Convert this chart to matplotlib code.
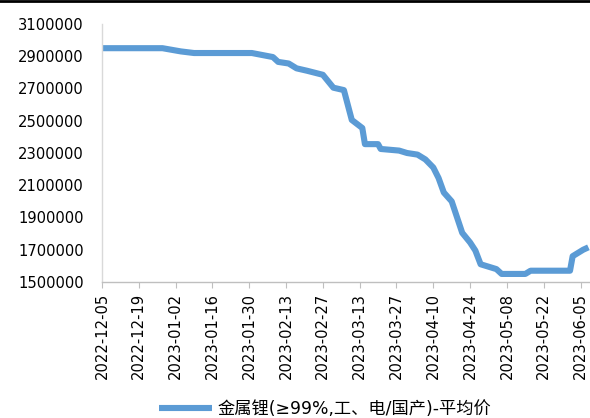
import matplotlib
matplotlib.use("Agg")
import matplotlib.pyplot as plt
import matplotlib.dates as mdates
from matplotlib.lines import Line2D
import numpy as np
import pandas as pd

plt.rcParams['font.family'] = ['DejaVu Sans', 'Noto Sans CJK SC']

dates = ["2022-12-05", "2022-12-28", "2023-01-04", "2023-01-09", "2023-01-31",
         "2023-02-08", "2023-02-10", "2023-02-14", "2023-02-17", "2023-02-21",
         "2023-02-27", "2023-03-03", "2023-03-07", "2023-03-10", "2023-03-14",
         "2023-03-15", "2023-03-20", "2023-03-21", "2023-03-28", "2023-03-31",
         "2023-04-04", "2023-04-07", "2023-04-10", "2023-04-12", "2023-04-14",
         "2023-04-17", "2023-04-21", "2023-04-24", "2023-04-26", "2023-04-28",
         "2023-05-04", "2023-05-06", "2023-05-15", "2023-05-17", "2023-06-01",
         "2023-06-02", "2023-06-06", "2023-06-08"]
prices = [2950000, 2950000, 2930000, 2920000, 2920000,
          2895000, 2865000, 2855000, 2825000, 2810000,
          2785000, 2705000, 2690000, 2505000, 2455000,
          2355000, 2355000, 2325000, 2315000, 2300000,
          2290000, 2260000, 2210000, 2145000, 2055000,
          2000000, 1805000, 1745000, 1695000, 1610000,
          1580000, 1550000, 1550000, 1570000, 1570000,
          1660000, 1700000, 1715000]
series_name = "金属锂(≥99%,工、电/国产)-平均价"
tick_dates = pd.date_range("2022-12-05", "2023-06-05", freq="14D")
y_ticks = list(range(1500000, 3100001, 200000))

W, H = 590, 418
fig = plt.figure(figsize=(W / 100, H / 100), dpi=100)
ax = fig.add_axes([102 / W, 1 - 282 / H, (W - 102) / W, (282 - 24) / H])

x = pd.to_datetime(dates)
ax.plot(x, prices, color="#5B9BD5", lw=4.4, solid_joinstyle="round",
        solid_capstyle="butt", label=series_name)

start = pd.Timestamp("2022-12-05")
ax.set_xlim(mdates.date2num(start), mdates.date2num(start) + 185.6)
ax.set_ylim(1500000, 3100000)
ax.set_yticks(y_ticks)
ax.set_yticklabels([str(v) for v in y_ticks], fontsize=10.6)
ax.set_xticks(tick_dates)
ax.set_xticklabels([d.strftime("%Y-%m-%d") for d in tick_dates], rotation=90, fontsize=10.6)
ax.tick_params(axis="y", length=0, pad=13)
ax.tick_params(axis="x", length=4, color="#BFBFBF", pad=4)

for s in ["top", "right"]:
    ax.spines[s].set_visible(False)
ax.spines["left"].set_color("#D9D9D9")
ax.spines["bottom"].set_color("#BFBFBF")
ax.spines["left"].set_linewidth(1.0)
ax.spines["bottom"].set_linewidth(1.0)

fig.add_artist(Line2D([0, 1], [1 - 1 / H, 1 - 1 / H], transform=fig.transFigure,
                      color="black", lw=2.0))

fig.legend(loc="center", bbox_to_anchor=(325 / W, 1 - 409 / H), frameon=False,
           fontsize=12.4, handlelength=3.1, handletextpad=0.3)

fig.savefig("out.png", dpi=100)
